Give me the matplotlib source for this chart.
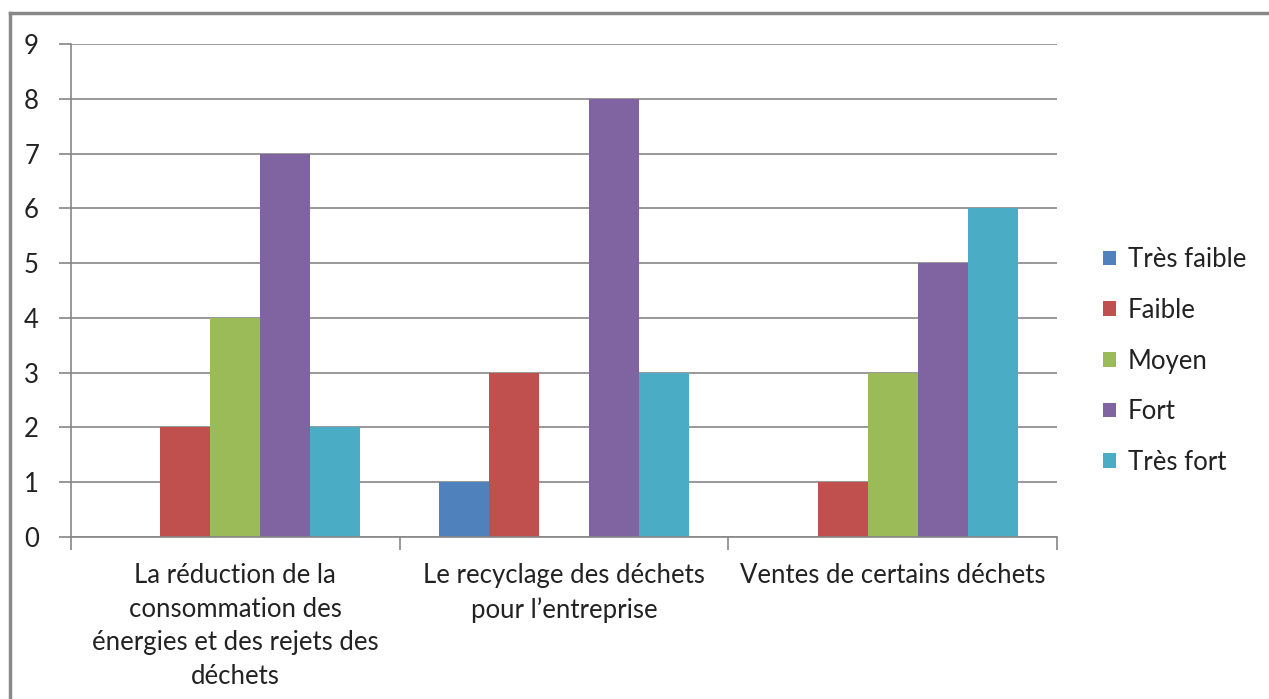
import matplotlib
matplotlib.use("Agg")
import matplotlib.pyplot as plt
from matplotlib.lines import Line2D
import numpy as np

plt.rcParams['font.family'] = ['Lato', 'DejaVu Sans']

categories = ["La réduction de la\nconsommation des\nénergies et des rejets des\ndéchets",
              "Le recyclage des déchets\npour l\u2019entreprise",
              "Ventes de certains déchets"]
series_names = ["Très faible", "Faible", "Moyen", "Fort", "Très fort"]
tres_faible = [0, 1, 0]
faible = [2, 3, 1]
moyen = [4, 0, 3]
fort = [7, 8, 5]
tres_fort = [2, 3, 6]
colors = ["#4F81BD", "#C0504D", "#9BBB59", "#8064A2", "#4BACC6"]
y_ticks = [0, 1, 2, 3, 4, 5, 6, 7, 8, 9]

series = [tres_faible, faible, moyen, fort, tres_fort]

FS = 18.5
fig = plt.figure(figsize=(12.69, 6.99), dpi=100)
ax = fig.add_axes([71/1269, 1-537/699, (1057-71)/1269, (537-44)/699])

x = np.arange(len(categories)) + 0.5
w = 50/329
for i, (vals, name, c) in enumerate(zip(series, series_names, colors)):
    ax.bar(x + (i-2)*w, vals, width=w, color=c, label=name, zorder=3)

ax.set_xlim(0, 3)
ax.set_ylim(0, 9)
ax.set_yticks(y_ticks)
ax.yaxis.grid(True, color="#868686", linewidth=1.2, zorder=0)
ax.set_axisbelow(True)
for s in ["top", "right"]:
    ax.spines[s].set_visible(False)
for s in ["left", "bottom"]:
    ax.spines[s].set_color("#868686")
    ax.spines[s].set_linewidth(1.2)
    ax.spines[s].set_zorder(4)

ax.set_xticks([0, 1, 2, 3])
ax.set_xticklabels([])
ax.set_xticks(x, minor=True)
ax.set_xticklabels(categories, minor=True, fontsize=FS, color="#222222", linespacing=1.42)
ax.tick_params(axis="x", which="major", length=9, color="#868686", width=1.2, direction="out")
ax.tick_params(axis="x", which="minor", length=0, pad=19)
ax.tick_params(axis="y", length=9, color="#868686", width=1.2, labelsize=FS, labelcolor="#222222", pad=14)

leg = fig.legend(loc="center left", bbox_to_anchor=(1080/1269, 1-361/699), frameon=False,
                 fontsize=FS, handlelength=0.5, handleheight=0.5, handletextpad=0.45,
                 labelspacing=1.0, labelcolor="#222222")

fig.add_artist(Line2D([10/1269, 1], [1-13/699, 1-13/699], color="#888888", linewidth=2.5))
fig.add_artist(Line2D([10/1269, 10/1269], [0, 1-13/699], color="#888888", linewidth=2.5))

fig.savefig("out.png", dpi=100)
